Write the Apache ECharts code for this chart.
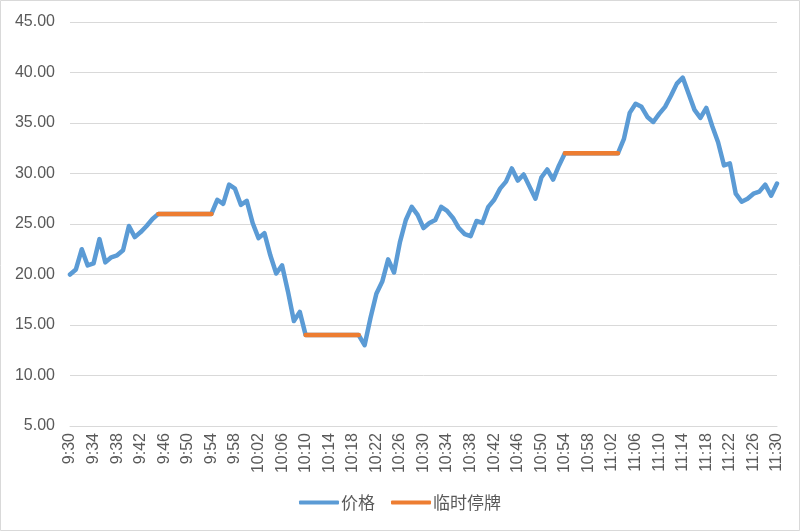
<!DOCTYPE html>
<html>
<head>
<meta charset="utf-8">
<script src="https://cdn.jsdelivr.net/npm/echarts@6/dist/echarts.min.js"></script>
<style>
html,body{margin:0;padding:0;background:#fff;}
#c{width:800px;height:531px;}
</style>
</head>
<body>
<div id="c"></div>
<script>
// Categories: every minute from 9:30 to 11:30
const times = [];
for (let m = 9*60+30; m <= 11*60+30; m++) {
  const h = Math.floor(m/60), mm = m%60;
  times.push(h + ':' + (mm < 10 ? '0' + mm : mm));
}

const priceName = '价格';
const haltName = '临时停牌';

const price = [
  20.0, 20.5, 22.5, 20.9, 21.1, 23.5, 21.2, 21.7, 21.9, 22.4,
  24.8, 23.7, 24.2, 24.8, 25.5, 26.0, 26.0, 26.0, 26.0, 26.0,
  26.0, 26.0, 26.0, 26.0, 26.0, 27.4, 27.0, 28.9, 28.5, 26.9,
  27.3, 25.1, 23.6, 24.1, 21.9, 20.1, 20.9, 18.3, 15.4, 16.3,
  14.0, 14.0, 14.0, 14.0, 14.0, 14.0, 14.0, 14.0, 14.0, 14.0,
  13.0, 15.7, 18.1, 19.3, 21.5, 20.2, 23.2, 25.4, 26.7, 25.9,
  24.6, 25.1, 25.4, 26.7, 26.3, 25.6, 24.6, 24.0, 23.8, 25.3,
  25.1, 26.7, 27.4, 28.5, 29.2, 30.5, 29.3, 29.9, 28.7, 27.5,
  29.6, 30.4, 29.4, 30.8, 32.0, 32.0, 32.0, 32.0, 32.0, 32.0,
  32.0, 32.0, 32.0, 32.0, 33.4, 36.0, 36.9, 36.6, 35.6, 35.1,
  35.9, 36.6, 37.7, 38.9, 39.5, 37.9, 36.3, 35.5, 36.5, 34.7,
  33.1, 30.8, 31.0, 28.0, 27.2, 27.5, 28.0, 28.2, 28.9, 27.8,
  29.0
];

// Trading halt segments: [startIndex, endIndex, value]
const haltStart = [15, 40, 84];
const haltEnd   = [24, 49, 93];
const haltValue = [26.0, 14.0, 32.0];

const halt = times.map(() => null);
for (let k = 0; k < haltStart.length; k++) {
  for (let i = haltStart[k]; i <= haltEnd[k]; i++) halt[i] = haltValue[k];
}

const yMin = 5, yMax = 45, yStep = 5;

const chart = echarts.init(document.getElementById('c'));
const numFont = '"Liberation Sans", Arial, sans-serif';
chart.setOption({
  animation: false,
  backgroundColor: '#ffffff',
  graphic: [{
    type: 'rect',
    shape: {x: 0.5, y: 0.5, width: 799, height: 530},
    style: {fill: 'none', stroke: '#d9d9d9', lineWidth: 1},
    silent: true
  }],
  grid: {left: 70, right: 23, top: 22, bottom: 105, containLabel: false},
  xAxis: {
    type: 'category',
    data: times,
    boundaryGap: false,
    axisLine: {show: true, lineStyle: {color: '#d9d9d9', width: 1}},
    axisTick: {show: false},
    axisLabel: {
      interval: 3,
      rotate: 90,
      margin: 7,
      color: '#595959',
      fontSize: 16,
      fontFamily: numFont
    },
    splitLine: {show: false}
  },
  yAxis: {
    type: 'value',
    min: yMin, max: yMax, interval: yStep,
    axisLine: {show: false},
    axisTick: {show: false},
    axisLabel: {
      color: '#595959',
      fontSize: 16,
      fontFamily: numFont,
      margin: 15,
      formatter: v => v.toFixed(2)
    },
    splitLine: {lineStyle: {color: '#d9d9d9', width: 1}}
  },
  legend: {
    bottom: 15,
    left: 'center',
    itemWidth: 40,
    itemHeight: 4,
    itemGap: 16,
    icon: 'roundRect',
    textStyle: {color: '#595959', fontSize: 17, fontFamily: '"Noto Sans CJK SC", sans-serif', padding: [0, 0, 0, -3]},
    data: [priceName, haltName]
  },
  series: [
    {
      name: priceName,
      type: 'line',
      data: price,
      symbol: 'none',
      smooth: false,
      itemStyle: {color: '#5B9BD5'},
      lineStyle: {color: '#5B9BD5', width: 4.5, cap: 'round', join: 'round'},
      z: 2
    },
    {
      name: haltName,
      type: 'line',
      data: halt,
      symbol: 'none',
      connectNulls: false,
      itemStyle: {color: '#ED7D31'},
      lineStyle: {color: '#ED7D31', width: 4.5, cap: 'round', join: 'round'},
      z: 3
    }
  ]
});
</script>
</body>
</html>
